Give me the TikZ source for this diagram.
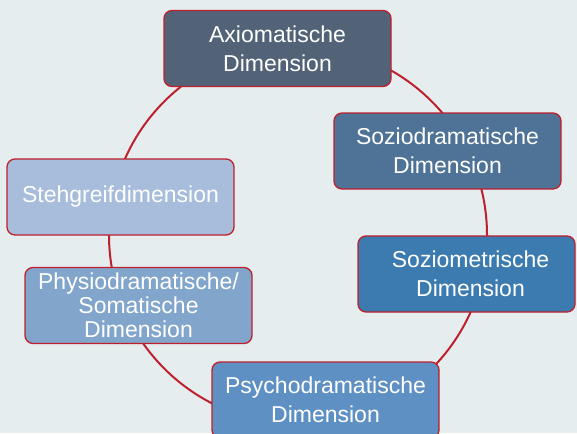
\documentclass[tikz,border=0pt]{standalone}
\usepackage{fontspec}
\setmainfont{Liberation Sans}
\usepackage{tikz}
\usetikzlibrary{positioning}
\definecolor{bgcol}{RGB}{230,237,239}
\definecolor{ringred}{RGB}{190,32,46}
\definecolor{axcol}{RGB}{82,99,120}
\definecolor{sdcol}{RGB}{79,115,150}
\definecolor{sgcol}{RGB}{167,189,219}
\definecolor{phcol}{RGB}{130,165,203}
\definecolor{smcol}{RGB}{59,123,176}
\definecolor{pscol}{RGB}{94,144,195}
\tikzset{dimbox/.style={rectangle, draw=ringred, line width=1.3pt, rounded corners=8pt, minimum width=227pt, minimum height=76pt, inner sep=0pt, text=white, align=center, font=\fontsize{23}{29}\selectfont}}

\begin{document}
\begin{tikzpicture}[x=1pt, y=-1pt]
	\path[use as bounding box, clip] (0,0) rectangle (577,433);
	\fill[bgcol] (0,0) rectangle (577,433);
	\coordinate (mid) at (298,235);
	\draw[ringred, line width=2pt] (mid) circle (189pt);
	\node[dimbox, fill=axcol] (axio) at (277.5,48.5) {Axiomatische\\Dimension};
	\node[dimbox, fill=sdcol] (sozdram) at (447.5,151) {Soziodramatische\\Dimension};
	\node[dimbox, fill=sgcol] (stehgreif) at (120.5,197) {Stehgreifdimension};
	\node[dimbox, fill=phcol, font=\fontsize{23}{24}\selectfont] (physio) at (138.5,305.5) {Physiodramatische/\\Somatische\\Dimension};
	\node[dimbox, fill=smcol, minimum width=217pt] (soziom) at (466.5,274) {\hspace*{8pt}Soziometrische\\\hspace*{8pt}Dimension};
	\node[dimbox, fill=pscol] (psycho) at (325.5,400) {Psychodramatische\\Dimension};
\end{tikzpicture}
\end{document}
